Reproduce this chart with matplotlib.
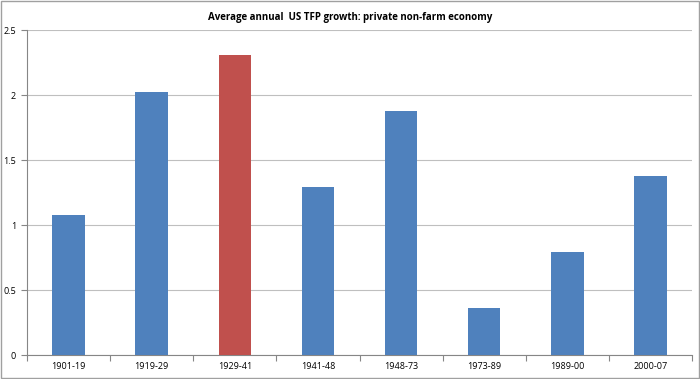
import matplotlib
matplotlib.use("Agg")
import matplotlib.pyplot as plt

periods = ["1901-19", "1919-29", "1929-41", "1941-48", "1948-73", "1973-89", "1989-00", "2000-07"]
tfp_growth = [1.08, 2.02, 2.31, 1.29, 1.88, 0.36, 0.79, 1.38]
highlight = "1929-41"

blue = "#4f81bd"
red = "#c0504d"
colors = [red if p == highlight else blue for p in periods]

plt.rcParams['font.family'] = ['Open Sans', 'DejaVu Sans']

fig = plt.figure(figsize=(7, 3.79), dpi=100)
ax = fig.add_axes([0.0386, 0.0633, 0.95, 0.8575])

x = list(range(len(periods)))
ax.bar(x, tfp_growth, width=0.39, color=colors, zorder=3)

ax.set_xlim(-0.5, len(periods) - 0.5)
ax.set_ylim(0, 2.5)
ax.set_yticks([0, 0.5, 1, 1.5, 2, 2.5])
ax.set_yticklabels(["0", "0.5", "1", "1.5", "2", "2.5"], fontsize=6.5)
ax.yaxis.grid(True, color="#bfbfbf", linewidth=0.8, zorder=0)

ax.set_xticks(x)
ax.set_xticklabels(periods, fontsize=6.5)
ax.tick_params(axis="x", length=0, pad=5)
ax.set_xticks([i - 0.5 for i in range(len(periods) + 1)], minor=True)
ax.tick_params(axis="x", which="minor", length=4, color="#868686", width=0.8)
ax.tick_params(axis="y", length=4, color="#868686", width=0.8, pad=4)

for s in ["top", "right"]:
    ax.spines[s].set_visible(False)
ax.spines["left"].set_color("#868686")
ax.spines["bottom"].set_color("#868686")

fig.text(0.5, 0.955, "Average annual  US TFP growth: private non-farm economy",
         ha="center", va="center", fontsize=7, fontweight="bold")

# grey frame round the chart
frame = plt.Rectangle((0.002, 0.003), 0.996, 0.994, transform=fig.transFigure,
                      fill=False, edgecolor="#a0a0a0", linewidth=1)
fig.patches.append(frame)

fig.savefig("out.png", dpi=100)
